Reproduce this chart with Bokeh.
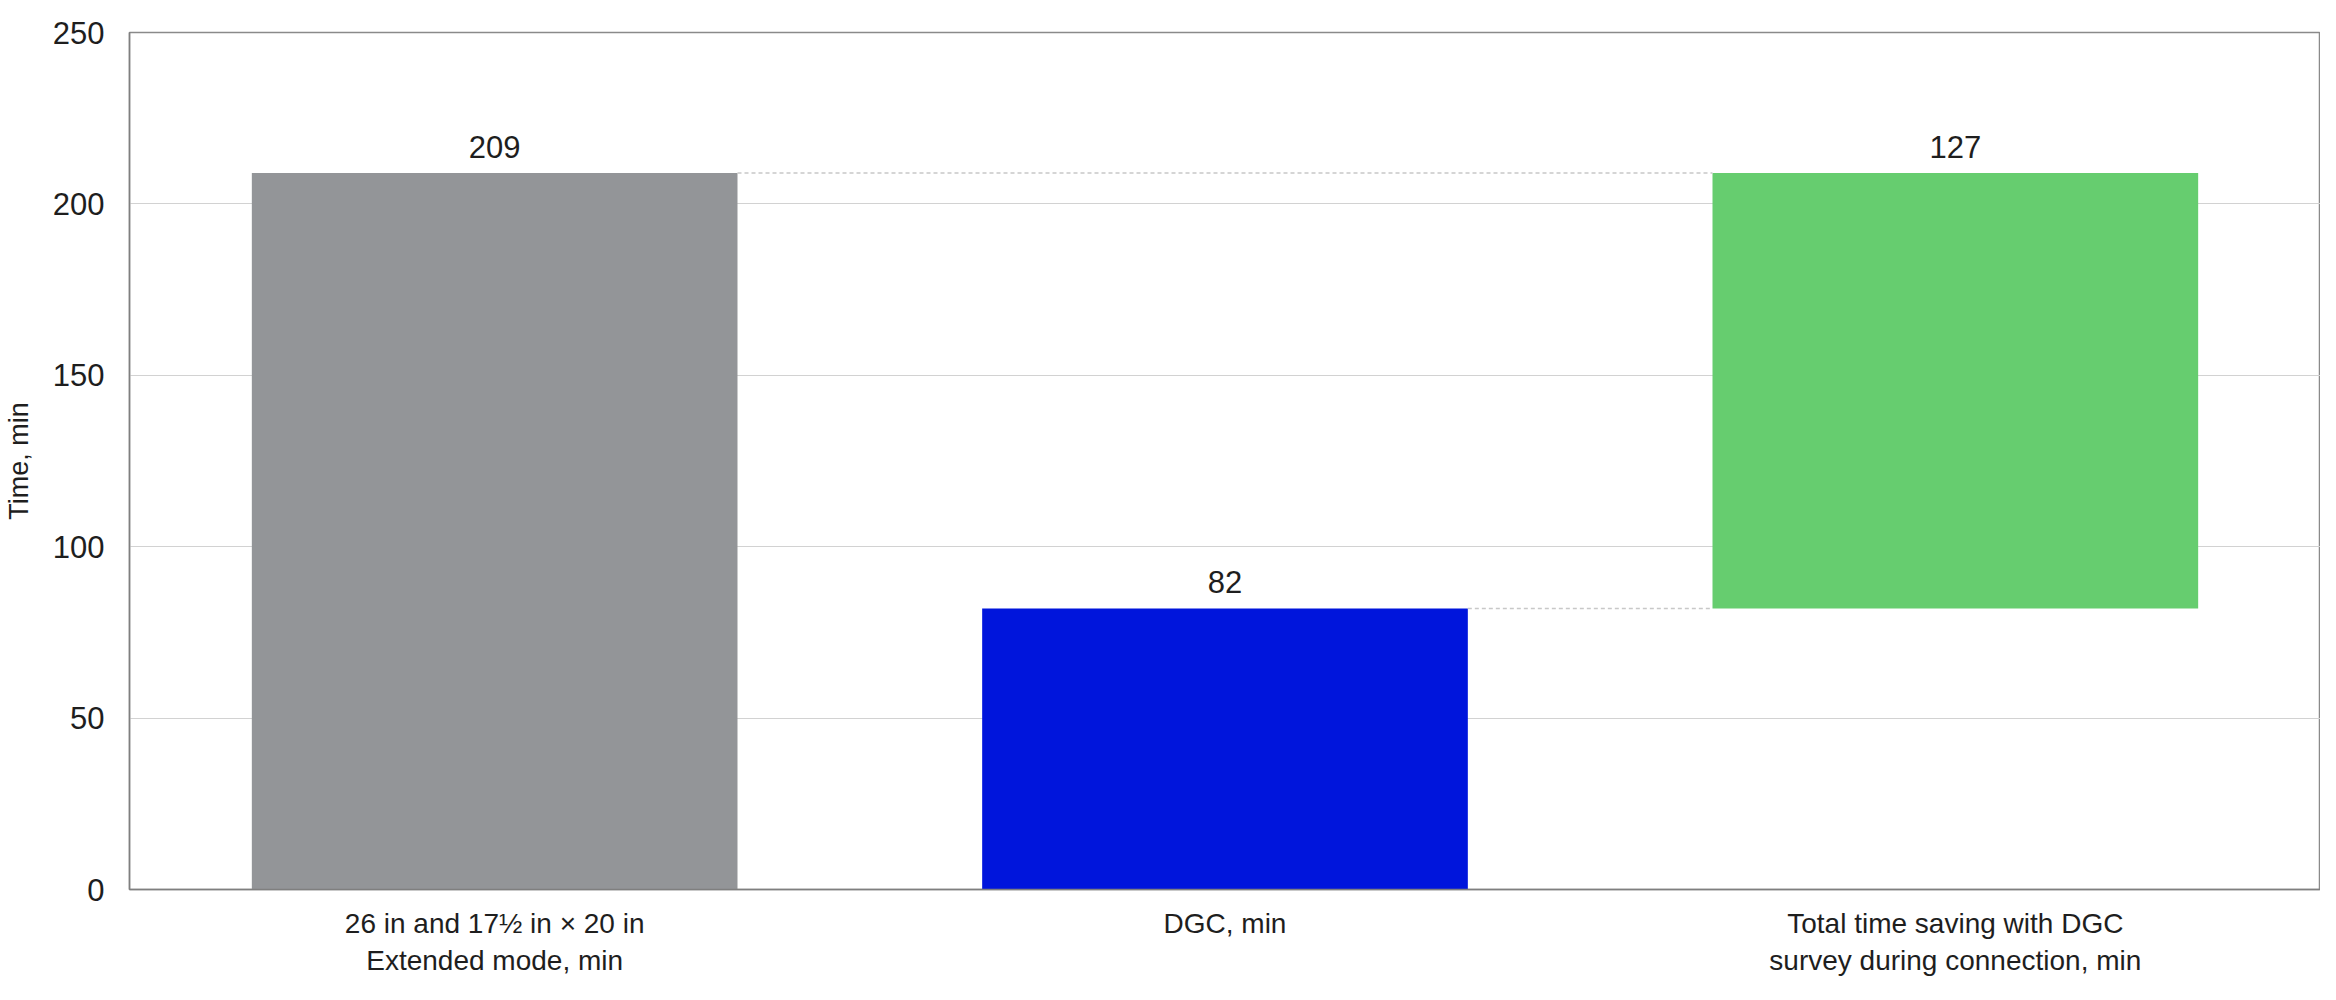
from bokeh.plotting import figure
from bokeh.models import Range1d, FixedTicker, ColumnDataSource
from bokeh.core.properties import value
from bokeh.embed import file_html
from bokeh.resources import INLINE

# ---- data ----
categories = [
    "26 in and 17\u00bd in \u00d7 20 in\nExtended mode, min",
    "DGC, min",
    "Total time saving with DGC\nsurvey during connection, min",
]
extended_time = 209
dgc_time = 82
saving = extended_time - dgc_time
bar_bottoms = [0, 0, dgc_time]
bar_tops = [extended_time, dgc_time, extended_time]
bar_labels = [str(extended_time), str(dgc_time), str(saving)]
bar_colors = ["#939598", "#0015DC", "#66CD6F"]
y_ticks = [0, 50, 100, 150, 200, 250]

FONT = "Liberation Sans"
TEXT = "#1e1e1e"
x_pos = [i + 0.5 for i in range(len(categories))]

p = figure(
    width=2320, height=984,
    x_range=Range1d(0, len(categories)), y_range=Range1d(0, 250),
    output_backend="svg", toolbar_location=None,
    min_border_left=126, min_border_right=0, min_border_top=32, min_border_bottom=95,
)

src = ColumnDataSource(dict(x=x_pos, bottom=bar_bottoms, top=bar_tops,
                            label=bar_labels, color=bar_colors))
p.vbar(x="x", bottom="bottom", top="top", width=0.665, color="color",
       line_color=None, source=src)

# connector lines
half = 0.665 / 2
p.segment(x0=[x_pos[0] + half, x_pos[1] + half], y0=[extended_time, dgc_time],
          x1=[x_pos[2] - half, x_pos[2] - half], y1=[extended_time, dgc_time],
          line_color="#c8c8c8", line_width=1.5, line_dash="4 3")

p.text(x="x", y="top", text="label", source=src, text_align="center",
       text_baseline="bottom", y_offset=-15, text_font=value(FONT),
       text_font_size="31px", text_color=TEXT)

# axes
p.xaxis.ticker = FixedTicker(ticks=x_pos)
p.xaxis.major_label_overrides = {x: c for x, c in zip(x_pos, categories)}
p.xaxis.major_label_text_font = FONT
p.xaxis.major_label_text_font_size = "28px"
p.xaxis.major_label_text_color = TEXT
p.xaxis.major_label_standoff = 18
p.yaxis.ticker = FixedTicker(ticks=y_ticks)
p.yaxis.major_label_text_font = FONT
p.yaxis.major_label_text_font_size = "31px"
p.yaxis.major_label_text_color = TEXT
p.yaxis.major_label_standoff = 25
p.yaxis.axis_label = "Time, min"
p.yaxis.axis_label_text_font = FONT
p.yaxis.axis_label_text_font_size = "27px"
p.yaxis.axis_label_text_font_style = "normal"
p.yaxis.axis_label_text_color = TEXT
p.yaxis.axis_label_standoff = 16
for ax in (p.xaxis, p.yaxis):
    ax.axis_line_color = "#7f7f7f"
    ax.axis_line_width = 1.5
    ax.major_tick_line_color = None
    ax.minor_tick_line_color = None
    ax.major_tick_out = 0
    ax.major_tick_in = 0
    ax.minor_tick_out = 0
    ax.minor_tick_in = 0

p.xgrid.grid_line_color = None
p.ygrid.ticker = FixedTicker(ticks=y_ticks)
p.ygrid.grid_line_color = "#d2d2d2"
p.ygrid.grid_line_width = 1.2
p.outline_line_color = "#8a8a8a"
p.outline_line_width = 1.5
p.background_fill_color = "white"
p.border_fill_color = "white"

open("out.html", "w").write(file_html(p, INLINE))
